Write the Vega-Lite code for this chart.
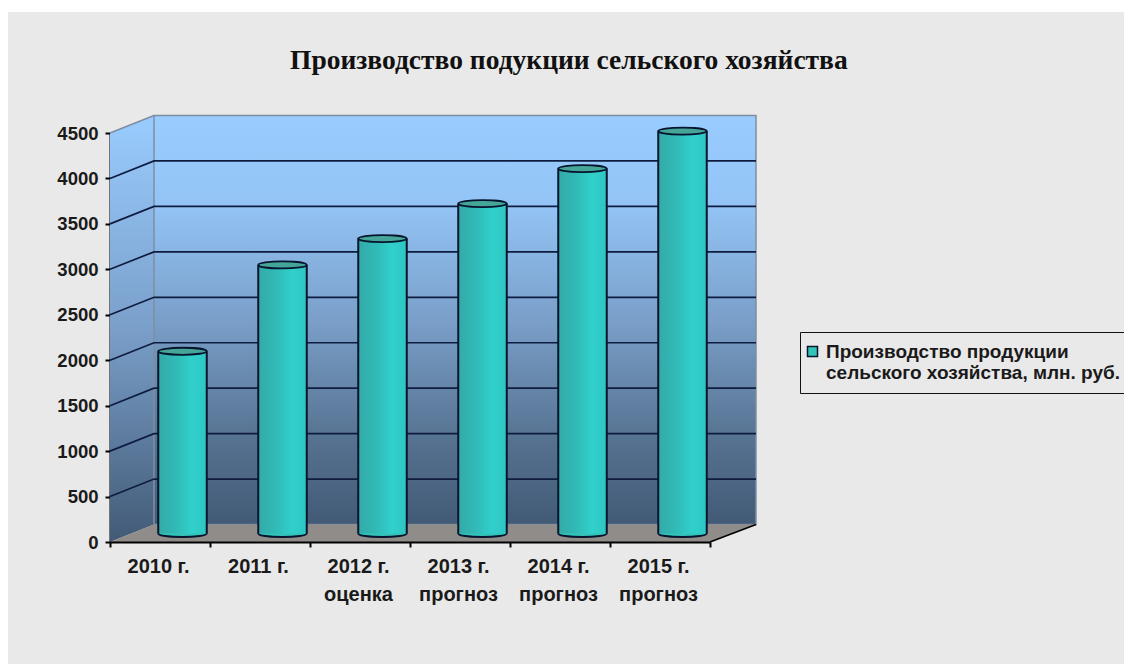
{"$schema":"https://vega.github.io/schema/vega-lite/v6.json","autosize":{"type":"none"},"padding":{"left":8,"top":12,"right":0,"bottom":0},"width":1116,"height":652,"background":"#ffffff","view":{"fill":"#e9e9e9","stroke":null},"title":{"text":"Производство подукции сельского хозяйства","font":"Liberation Serif","fontWeight":"bold","fontSize":27.5,"color":"#111111","anchor":"start","frame":"group","baseline":"alphabetic","dx":282,"dy":88},"datasets":{"bars":[{"year":"2010 г.","value":2005,"series":"Производство продукции|сельского хозяйства, млн. руб."},{"year":"2011 г.","value":2955,"series":"Производство продукции|сельского хозяйства, млн. руб."},{"year":"2012 г.|оценка","value":3245,"series":"Производство продукции|сельского хозяйства, млн. руб."},{"year":"2013 г.|прогноз","value":3630,"series":"Производство продукции|сельского хозяйства, млн. руб."},{"year":"2014 г.|прогноз","value":4015,"series":"Производство продукции|сельского хозяйства, млн. руб."},{"year":"2015 г.|прогноз","value":4428,"series":"Производство продукции|сельского хозяйства, млн. руб."}],"side":[{"pos":0,"low":0,"high":4500},{"pos":0.44,"low":192.5,"high":4692.5}],"back":[{"pos":0.44,"low":192.5,"high":4692.5,"right":6.46}],"floor":[{"pos":0,"low":0,"high":0},{"pos":0.44,"low":0,"high":192.5},{"pos":6,"low":0,"high":192.5},{"pos":6.46,"low":192.5,"high":192.5}],"grid":[{"tick":500,"pos":0,"v":500},{"tick":500,"pos":0.44,"v":692.5},{"tick":500,"pos":6.46,"v":692.5},{"tick":1000,"pos":0,"v":1000},{"tick":1000,"pos":0.44,"v":1192.5},{"tick":1000,"pos":6.46,"v":1192.5},{"tick":1500,"pos":0,"v":1500},{"tick":1500,"pos":0.44,"v":1692.5},{"tick":1500,"pos":6.46,"v":1692.5},{"tick":2000,"pos":0,"v":2000},{"tick":2000,"pos":0.44,"v":2192.5},{"tick":2000,"pos":6.46,"v":2192.5},{"tick":2500,"pos":0,"v":2500},{"tick":2500,"pos":0.44,"v":2692.5},{"tick":2500,"pos":6.46,"v":2692.5},{"tick":3000,"pos":0,"v":3000},{"tick":3000,"pos":0.44,"v":3192.5},{"tick":3000,"pos":6.46,"v":3192.5},{"tick":3500,"pos":0,"v":3500},{"tick":3500,"pos":0.44,"v":3692.5},{"tick":3500,"pos":6.46,"v":3692.5},{"tick":4000,"pos":0,"v":4000},{"tick":4000,"pos":0.44,"v":4192.5},{"tick":4000,"pos":6.46,"v":4192.5}],"edge":[{"pos":6,"v":0},{"pos":6.46,"v":192.5}],"topedge":[{"pos":0,"v":4500},{"pos":0.44,"v":4692.5}]},"resolve":{"scale":{"x":"independent"}},"encoding":{"y":{"type":"quantitative","scale":{"domain":[0,4500],"range":[530,121],"nice":false,"zero":false}}},"layer":[{"encoding":{"x":{"type":"quantitative","scale":{"domain":[-1.02,10.14],"nice":false,"zero":false},"axis":null}},"layer":[{"data":{"name":"side"},"mark":{"type":"area","color":{"gradient":"linear","x1":0,"y1":0,"x2":0,"y2":1,"stops":[{"offset":0,"color":"#99ccff"},{"offset":0.5,"color":"#7a9fc9"},{"offset":1,"color":"#425a76"}]}},"encoding":{"x":{"field":"pos"},"y":{"field":"high","title":null,"axis":{"offset":-102,"format":"d","values":[0,500,1000,1500,2000,2500,3000,3500,4000,4500],"grid":false,"title":null,"domainColor":"#000000","domainWidth":2,"tickColor":"#000000","tickWidth":2,"tickSize":5,"labelFont":"Liberation Sans","labelFontWeight":"bold","labelFontSize":18.5,"labelColor":"#1a1a1a","labelPadding":7}},"y2":{"field":"low"}}},{"data":{"name":"back"},"mark":{"type":"rect","stroke":"#7d8ea3","strokeWidth":1.5,"color":{"gradient":"linear","x1":0,"y1":0,"x2":0,"y2":1,"stops":[{"offset":0,"color":"#99ccff"},{"offset":0.22,"color":"#93c4f5"},{"offset":0.5,"color":"#7a9fc9"},{"offset":0.8,"color":"#55718f"},{"offset":1,"color":"#425a76"}]}},"encoding":{"x":{"field":"pos"},"x2":{"field":"right"},"y":{"field":"high"},"y2":{"field":"low"}}},{"data":{"name":"floor"},"mark":{"type":"area","color":"#8f8c89"},"encoding":{"x":{"field":"pos"},"y":{"field":"high"},"y2":{"field":"low"}}},{"data":{"name":"grid"},"mark":{"type":"line","color":"#0f1c40","strokeWidth":1.7},"encoding":{"x":{"field":"pos"},"y":{"field":"v"},"detail":{"field":"tick"}}},{"data":{"name":"edge"},"mark":{"type":"line","color":"#000000","strokeWidth":1.6},"encoding":{"x":{"field":"pos"},"y":{"field":"v"}}},{"data":{"name":"topedge"},"mark":{"type":"line","color":"#7d8ea3","strokeWidth":1.5},"encoding":{"x":{"field":"pos"},"y":{"field":"v"}}}]},{"data":{"name":"bars"},"encoding":{"x":{"field":"year","type":"nominal","sort":null,"scale":{"range":[102,702],"paddingInner":0,"paddingOuter":0},"title":null,"axis":{"offset":-122,"labelAngle":0,"title":null,"labelExpr":"split(datum.label,'|')","labelLineHeight":28,"tickBand":"extent","domainColor":"#000000","domainWidth":2,"tickColor":"#000000","tickWidth":2,"tickSize":5,"labelFont":"Liberation Sans","labelFontWeight":"bold","labelFontSize":20,"labelColor":"#1a1a1a","labelPadding":9,"labelOffset":-2,"zindex":1}}},"layer":[{"mark":{"type":"point","filled":true,"shape":"M-1,0A1,0.145 0 1 1 1,0A1,0.145 0 1 1 -1,0Z","size":2352,"stroke":"#06142e","strokeWidth":1.8,"opacity":1,"xOffset":22.5,"yOffset":-8.5},"encoding":{"y":{"datum":0},"color":{"field":"series","type":"nominal","scale":{"range":["#33c4b9"]},"legend":{"title":null,"orient":"none","legendX":792,"legendY":320,"labelExpr":"split(datum.label,'|')","labelFont":"Liberation Sans","labelFontWeight":"bold","labelFontSize":19,"labelColor":"#1a1a1a","labelLimit":400,"symbolType":"square","symbolSize":100,"symbolStrokeColor":"#06142e","symbolStrokeWidth":1.5,"symbolOffset":-7,"strokeColor":"#111111","fillColor":"#e9e9e9","padding":10,"labelOffset":4}}}},{"mark":{"type":"bar","width":48.5,"xOffset":22.5,"x2Offset":22.5,"yOffset":-8.5,"y2Offset":-8.5,"color":{"gradient":"linear","x1":0,"y1":0,"x2":1,"y2":0,"stops":[{"offset":0,"color":"#34aaa8"},{"offset":0.4,"color":"#30bcb8"},{"offset":0.7,"color":"#31d0cc"},{"offset":1,"color":"#2ec6c2"}]}},"encoding":{"y":{"field":"value"},"y2":{"datum":0}}},{"mark":{"type":"rule","color":"#06142e","strokeWidth":2,"xOffset":-1.75,"yOffset":-8.5,"y2Offset":-8.5},"encoding":{"y":{"field":"value"},"y2":{"datum":0}}},{"mark":{"type":"rule","color":"#06142e","strokeWidth":2,"xOffset":46.75,"yOffset":-8.5,"y2Offset":-8.5},"encoding":{"y":{"field":"value"},"y2":{"datum":0}}},{"mark":{"type":"point","filled":true,"shape":"M-1,0A1,0.145 0 1 1 1,0A1,0.145 0 1 1 -1,0Z","size":2352,"fill":"#45a598","stroke":"#06142e","strokeWidth":1.8,"opacity":1,"xOffset":22.5,"yOffset":-8.5},"encoding":{"y":{"field":"value"}}}]}]}
